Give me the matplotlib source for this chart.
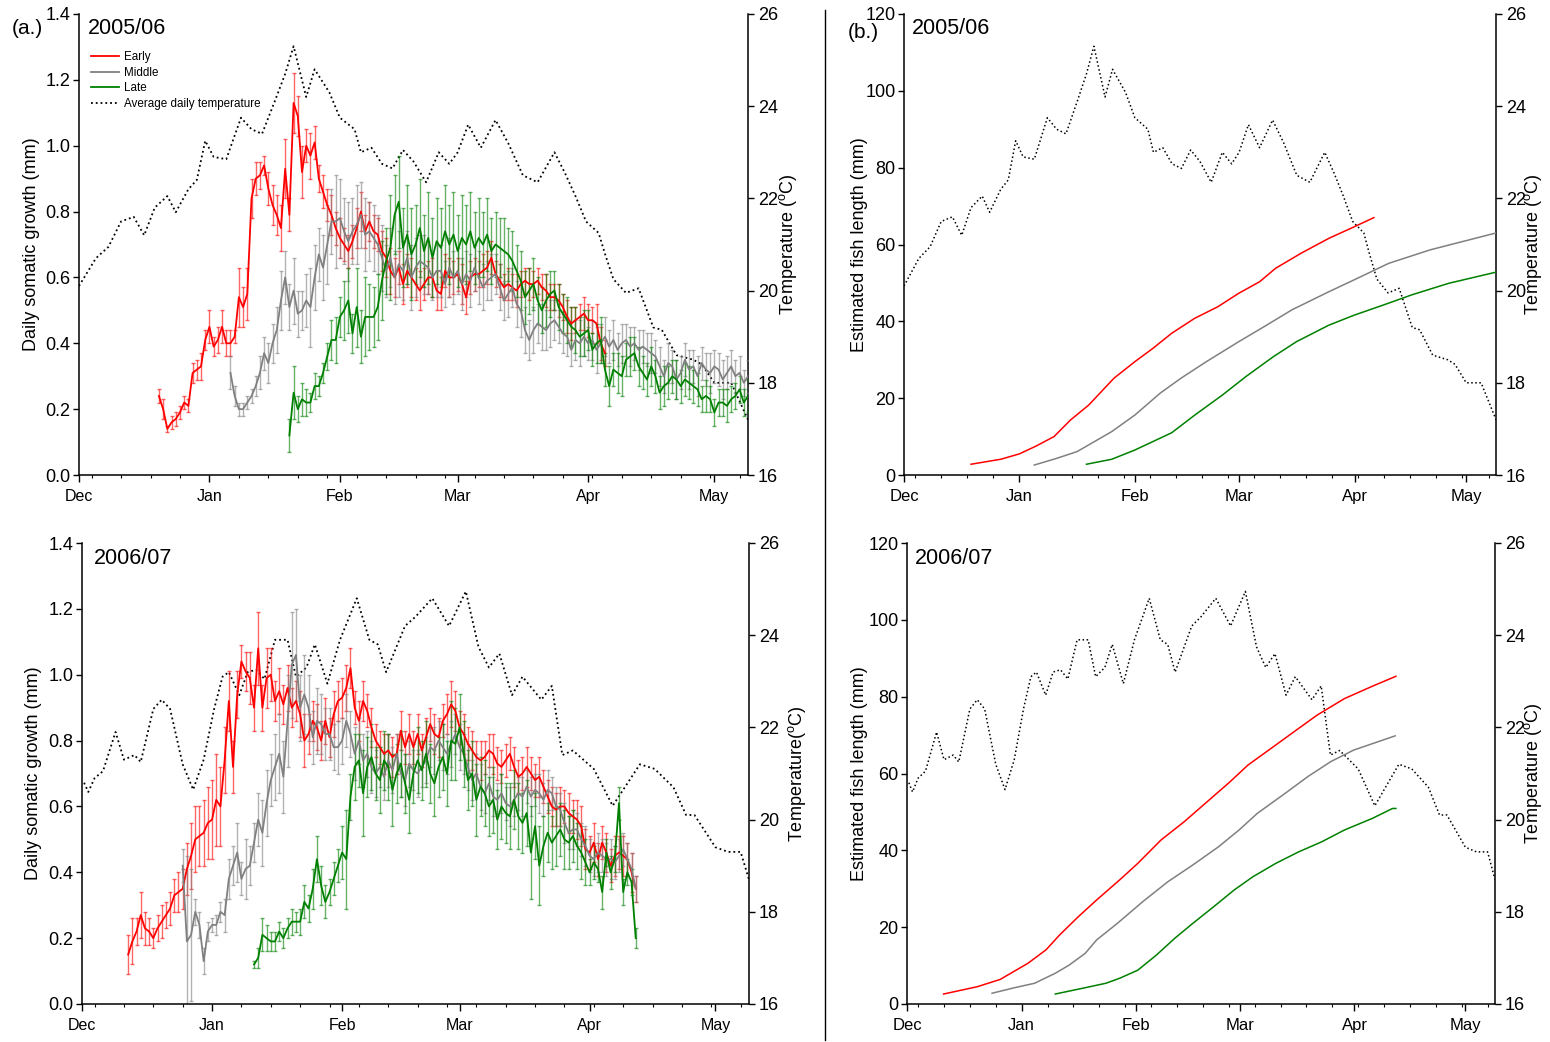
import numpy as np
import matplotlib.pyplot as plt
from matplotlib.lines import Line2D
from matplotlib.transforms import ScaledTranslation

plt.rcParams['font.family'] = ['Liberation Sans', 'DejaVu Sans']
plt.rcParams['mathtext.default'] = 'regular'

W, H = 1550, 1042

# x axis: days counted from 1 December
MONTH_DAYS = [0, 31, 62, 90, 121, 151]
MONTHS = ['Dec', 'Jan', 'Feb', 'Mar', 'Apr', 'May']
WEEK_DAYS = list(range(3, 159, 7))

RED, GREY, GREEN = '#ff0000', '#808080', '#008000'

# ---- average daily temperature (deg C) ----
temp05_day = [0, 4, 7, 10, 13, 15.5, 18, 21, 23, 26, 28, 30, 32, 35, 38.5, 41, 43.5, 46.5, 49, 51,
              54, 56, 59.5, 62, 65.5, 67, 69.5, 72, 74.5, 77, 79.5, 82.5, 85.5, 88, 90, 92.5, 95.5,
              99, 102, 105.5, 109, 113, 115.5, 118, 120.5, 123.5, 125, 127, 130, 133, 136.5, 138.5,
              142, 146, 148, 151, 155, 157, 159]
temp05 = [20.1, 20.7, 20.95, 21.5, 21.6, 21.2, 21.8, 22.05, 21.7, 22.2, 22.4, 23.25, 22.9, 22.85,
          23.75, 23.5, 23.4, 24.1, 24.7, 25.3, 24.2, 24.8, 24.3, 23.75, 23.5, 23.0, 23.1, 22.75,
          22.65, 23.05, 22.8, 22.35, 23.0, 22.75, 23.0, 23.6, 23.1, 23.7, 23.2, 22.5, 22.35, 23.0,
          22.55, 22.05, 21.5, 21.25, 20.8, 20.25, 19.95, 20.05, 19.2, 19.15, 18.6, 18.5, 18.4,
          18.0, 18.0, 17.6, 17.2]

temp06_day = [0.5, 1.5, 3, 5, 8, 10, 12.5, 14, 17, 19, 21, 24, 26.5, 29, 31.5, 33.5, 35, 37.5, 39.5,
              41.5, 43.5, 46, 49, 51, 53.5, 55.5, 58.5, 61.5, 65.5, 68.5, 70.5, 72.5, 77, 79.5, 83.5,
              87.5, 91.5, 94.5, 97, 99.5, 102.5, 105, 109.5, 112, 114.5, 117, 122, 126.5, 133,
              136.5, 141, 144, 146, 151, 154, 157, 159]
temp06 = [20.8, 20.6, 20.9, 21.05, 21.9, 21.3, 21.4, 21.25, 22.4, 22.6, 22.4, 21.2, 20.65, 21.3,
          22.4, 23.1, 23.2, 22.7, 23.2, 23.25, 23.05, 23.9, 23.9, 23.1, 23.3, 23.8, 22.95, 23.9,
          24.8, 23.9, 23.8, 23.2, 24.2, 24.4, 24.8, 24.2, 24.95, 23.75, 23.3, 23.6, 22.7, 23.1,
          22.6, 22.9, 21.4, 21.5, 21.1, 20.3, 21.2, 21.1, 20.7, 20.1, 20.1, 19.4, 19.3, 19.3, 18.7]

# ---- daily somatic growth (mm): one value per day from the first day ----
early05_start = 19
early05 = [0.24, 0.20, 0.14, 0.16, 0.17, 0.19, 0.22, 0.21, 0.31, 0.32,
           0.33, 0.41, 0.45, 0.39, 0.41, 0.45, 0.40, 0.40, 0.42, 0.54,
           0.51, 0.55, 0.84, 0.90, 0.91, 0.94, 0.87, 0.82, 0.79, 0.75,
           0.93, 0.79, 1.13, 1.09, 0.92, 1.00, 0.97, 1.01, 0.90, 0.86,
           0.82, 0.79, 0.75, 0.72, 0.70, 0.68, 0.71, 0.75, 0.80, 0.74,
           0.77, 0.74, 0.73, 0.68, 0.66, 0.62, 0.60, 0.63, 0.58, 0.62,
           0.60, 0.58, 0.56, 0.58, 0.60, 0.60, 0.56, 0.55, 0.62, 0.60,
           0.60, 0.61, 0.58, 0.54, 0.60, 0.61, 0.61, 0.62, 0.63, 0.66,
           0.61, 0.59, 0.57, 0.58, 0.57, 0.56, 0.58, 0.59, 0.58, 0.58,
           0.59, 0.57, 0.56, 0.54, 0.54, 0.53, 0.51, 0.48, 0.46, 0.47,
           0.48, 0.49, 0.47, 0.47, 0.46, 0.40, 0.37]
early05_err = [0.02, 0.03, 0.01, 0.02, 0.02, 0.02, 0.02, 0.02, 0.03, 0.03,
               0.04, 0.03, 0.05, 0.03, 0.04, 0.05, 0.04, 0.04, 0.02, 0.09,
               0.06, 0.08, 0.06, 0.05, 0.04, 0.03, 0.05, 0.06, 0.06, 0.07,
               0.09, 0.05, 0.09, 0.06, 0.08, 0.05, 0.07, 0.05, 0.04, 0.05,
               0.05, 0.06, 0.05, 0.06, 0.05, 0.05, 0.05, 0.06, 0.06, 0.05,
               0.06, 0.05, 0.05, 0.06, 0.06, 0.07, 0.06, 0.05, 0.06, 0.05,
               0.06, 0.05, 0.06, 0.05, 0.05, 0.06, 0.06, 0.05, 0.05, 0.06,
               0.05, 0.05, 0.06, 0.05, 0.05, 0.05, 0.04, 0.05, 0.05, 0.05,
               0.04, 0.05, 0.04, 0.05, 0.04, 0.05, 0.04, 0.04, 0.05, 0.04,
               0.04, 0.04, 0.05, 0.04, 0.04, 0.05, 0.04, 0.05, 0.05, 0.04,
               0.04, 0.05, 0.05, 0.04, 0.06, 0.05, 0.04]

middle05_start = 36
middle05 = [0.31, 0.24, 0.20, 0.20, 0.22, 0.24, 0.27, 0.31, 0.37, 0.34,
            0.40, 0.44, 0.53, 0.60, 0.51, 0.56, 0.49, 0.50, 0.53, 0.51,
            0.60, 0.67, 0.63, 0.70, 0.77, 0.77, 0.78, 0.74, 0.71, 0.74,
            0.76, 0.79, 0.73, 0.74, 0.72, 0.70, 0.66, 0.62, 0.66, 0.60,
            0.64, 0.62, 0.66, 0.60, 0.63, 0.65, 0.64, 0.63, 0.60, 0.62,
            0.62, 0.58, 0.63, 0.60, 0.62, 0.58, 0.61, 0.59, 0.63, 0.60,
            0.57, 0.59, 0.60, 0.61, 0.57, 0.53, 0.55, 0.57, 0.52, 0.50,
            0.44, 0.41, 0.44, 0.46, 0.45, 0.44, 0.46, 0.47, 0.45, 0.43,
            0.42, 0.38, 0.41, 0.40, 0.42, 0.40, 0.41, 0.38, 0.40, 0.42,
            0.39, 0.41, 0.38, 0.40, 0.41, 0.39, 0.40, 0.38, 0.39, 0.38,
            0.37, 0.36, 0.33, 0.30, 0.34, 0.33, 0.29, 0.31, 0.35, 0.32,
            0.33, 0.30, 0.34, 0.32, 0.31, 0.33, 0.32, 0.29, 0.31, 0.33,
            0.30, 0.31, 0.28, 0.30]
middle05_err = [0.05, 0.03, 0.02, 0.02, 0.02, 0.02, 0.03, 0.05, 0.05, 0.06,
                0.06, 0.07, 0.09, 0.08, 0.07, 0.10, 0.07, 0.06, 0.08, 0.12,
                0.10, 0.08, 0.10, 0.12, 0.10, 0.14, 0.12, 0.10, 0.12, 0.10,
                0.12, 0.10, 0.11, 0.09, 0.10, 0.09, 0.10, 0.08, 0.09, 0.08,
                0.10, 0.09, 0.08, 0.10, 0.09, 0.08, 0.09, 0.08, 0.07, 0.08,
                0.08, 0.07, 0.09, 0.08, 0.07, 0.08, 0.07, 0.08, 0.07, 0.08,
                0.07, 0.06, 0.07, 0.06, 0.07, 0.06, 0.07, 0.06, 0.07, 0.08,
                0.07, 0.06, 0.07, 0.06, 0.07, 0.06, 0.07, 0.06, 0.05, 0.06,
                0.06, 0.05, 0.06, 0.07, 0.06, 0.05, 0.06, 0.07, 0.06, 0.06,
                0.05, 0.06, 0.05, 0.06, 0.05, 0.06, 0.05, 0.06, 0.05, 0.05,
                0.06, 0.05, 0.06, 0.05, 0.06, 0.05, 0.06, 0.05, 0.05, 0.06,
                0.05, 0.06, 0.05, 0.05, 0.06, 0.05, 0.05, 0.06, 0.05, 0.05,
                0.05, 0.05, 0.04, 0.05]

late05_start = 50
late05 = [0.12, 0.25, 0.20, 0.23, 0.22, 0.22, 0.27, 0.27, 0.31, 0.36,
          0.41, 0.41, 0.48, 0.50, 0.53, 0.43, 0.51, 0.42, 0.48, 0.48,
          0.48, 0.51, 0.59, 0.65, 0.69, 0.79, 0.83, 0.69, 0.73, 0.67,
          0.70, 0.75, 0.68, 0.72, 0.66, 0.71, 0.69, 0.74, 0.70, 0.73,
          0.68, 0.72, 0.70, 0.74, 0.69, 0.72, 0.70, 0.73, 0.68, 0.70,
          0.69, 0.68, 0.67, 0.65, 0.62, 0.59, 0.54, 0.56, 0.58, 0.53,
          0.50, 0.53, 0.55, 0.56, 0.51, 0.49, 0.47, 0.45, 0.44, 0.42,
          0.43, 0.44, 0.38, 0.40, 0.41, 0.32, 0.27, 0.32, 0.31, 0.30,
          0.35, 0.36, 0.37, 0.33, 0.31, 0.29, 0.33, 0.30, 0.25, 0.27,
          0.28, 0.30, 0.29, 0.27, 0.29, 0.28, 0.27, 0.26, 0.23, 0.24,
          0.23, 0.19, 0.22, 0.22, 0.21, 0.23, 0.24, 0.26, 0.22, 0.24]
late05_err = [0.05, 0.08, 0.04, 0.05, 0.04, 0.03, 0.04, 0.03, 0.03, 0.04,
              0.06, 0.07, 0.06, 0.09, 0.10, 0.06, 0.12, 0.08, 0.12, 0.10,
              0.09, 0.10, 0.12, 0.10, 0.16, 0.12, 0.14, 0.12, 0.15, 0.14,
              0.12, 0.15, 0.11, 0.14, 0.12, 0.13, 0.12, 0.14, 0.12, 0.13,
              0.11, 0.13, 0.12, 0.12, 0.11, 0.12, 0.10, 0.11, 0.10, 0.10,
              0.09, 0.10, 0.08, 0.09, 0.08, 0.09, 0.08, 0.07, 0.08, 0.07,
              0.07, 0.08, 0.07, 0.06, 0.07, 0.06, 0.07, 0.06, 0.07, 0.06,
              0.07, 0.06, 0.05, 0.06, 0.07, 0.05, 0.06, 0.05, 0.06, 0.06,
              0.05, 0.06, 0.05, 0.06, 0.05, 0.05, 0.06, 0.05, 0.05, 0.06,
              0.05, 0.05, 0.06, 0.05, 0.05, 0.05, 0.05, 0.05, 0.04, 0.05,
              0.04, 0.04, 0.04, 0.04, 0.05, 0.04, 0.04, 0.04, 0.04, 0.05]

early06_start = 11
early06 = [0.15, 0.19, 0.22, 0.27, 0.23, 0.22, 0.20, 0.23, 0.25, 0.27,
           0.29, 0.33, 0.34, 0.35, 0.41, 0.45, 0.50, 0.51, 0.52, 0.55,
           0.56, 0.62, 0.60, 0.74, 0.92, 0.72, 0.94, 1.04, 1.01, 0.99,
           0.90, 1.08, 0.90, 0.99, 1.00, 0.92, 0.95, 0.91, 0.96, 0.90,
           0.92, 0.88, 0.80, 0.82, 0.86, 0.84, 0.80, 0.86, 0.81, 0.88,
           0.92, 0.93, 0.96, 1.02, 0.90, 0.86, 0.92, 0.89, 0.84, 0.80,
           0.78, 0.76, 0.77, 0.75, 0.76, 0.83, 0.78, 0.82, 0.78, 0.82,
           0.77, 0.81, 0.85, 0.82, 0.81, 0.86, 0.88, 0.91, 0.89, 0.84,
           0.82, 0.79, 0.77, 0.75, 0.74, 0.75, 0.77, 0.76, 0.73, 0.72,
           0.74, 0.76, 0.72, 0.69, 0.70, 0.72, 0.70, 0.68, 0.69, 0.66,
           0.63, 0.60, 0.59, 0.60, 0.60, 0.58, 0.57, 0.56, 0.54, 0.47,
           0.46, 0.49, 0.44, 0.49, 0.46, 0.42, 0.45, 0.46, 0.45, 0.44,
           0.40, 0.35]
early06_err = [0.06, 0.07, 0.04, 0.07, 0.05, 0.04, 0.03, 0.04, 0.05, 0.04,
               0.05, 0.05, 0.06, 0.06, 0.08, 0.10, 0.10, 0.09, 0.10, 0.11,
               0.12, 0.14, 0.12, 0.10, 0.09, 0.08, 0.07, 0.05, 0.06, 0.08,
               0.07, 0.11, 0.07, 0.09, 0.08, 0.06, 0.07, 0.06, 0.07, 0.06,
               0.06, 0.07, 0.08, 0.06, 0.06, 0.07, 0.06, 0.07, 0.06, 0.07,
               0.06, 0.06, 0.07, 0.06, 0.05, 0.06, 0.06, 0.05, 0.06, 0.05,
               0.05, 0.06, 0.05, 0.06, 0.06, 0.06, 0.05, 0.06, 0.05, 0.06,
               0.05, 0.06, 0.05, 0.06, 0.06, 0.05, 0.06, 0.07, 0.06, 0.05,
               0.06, 0.05, 0.06, 0.05, 0.06, 0.05, 0.05, 0.06, 0.05, 0.05,
               0.05, 0.05, 0.06, 0.05, 0.05, 0.06, 0.05, 0.05, 0.06, 0.05,
               0.05, 0.06, 0.05, 0.06, 0.05, 0.06, 0.05, 0.06, 0.06, 0.06,
               0.05, 0.06, 0.05, 0.05, 0.06, 0.05, 0.06, 0.05, 0.06, 0.05,
               0.06, 0.04]

middle06_start = 24
middle06 = [0.42, 0.19, 0.21, 0.28, 0.24, 0.13, 0.22, 0.24, 0.24, 0.28,
            0.27, 0.38, 0.42, 0.46, 0.38, 0.41, 0.42, 0.49, 0.56, 0.52,
            0.61, 0.68, 0.72, 0.76, 0.69, 0.86, 1.03, 1.06, 0.90, 0.94,
            0.90, 0.81, 0.86, 0.85, 0.82, 0.82, 0.78, 0.78, 0.80, 0.86,
            0.82, 0.76, 0.80, 0.74, 0.76, 0.72, 0.70, 0.72, 0.69, 0.74,
            0.71, 0.76, 0.70, 0.68, 0.73, 0.71, 0.70, 0.72, 0.74, 0.78,
            0.77, 0.80, 0.78, 0.76, 0.79, 0.82, 0.78, 0.76, 0.72, 0.68,
            0.70, 0.66, 0.64, 0.67, 0.63, 0.62, 0.64, 0.61, 0.60, 0.62,
            0.64, 0.63, 0.66, 0.63, 0.65, 0.64, 0.62, 0.65, 0.64, 0.60,
            0.59, 0.55, 0.52, 0.53, 0.53, 0.50, 0.48, 0.45, 0.44, 0.46,
            0.45, 0.44, 0.44, 0.43, 0.45, 0.47, 0.44, 0.41, 0.35]
middle06_err = [0.05, 0.26, 0.20, 0.04, 0.04, 0.04, 0.03, 0.02, 0.03, 0.03,
                0.05, 0.06, 0.06, 0.09, 0.05, 0.09, 0.06, 0.06, 0.08, 0.10,
                0.10, 0.08, 0.10, 0.12, 0.11, 0.14, 0.16, 0.14, 0.10, 0.12,
                0.10, 0.08, 0.10, 0.09, 0.08, 0.08, 0.07, 0.08, 0.07, 0.08,
                0.07, 0.08, 0.07, 0.08, 0.07, 0.08, 0.07, 0.06, 0.07, 0.08,
                0.07, 0.06, 0.07, 0.08, 0.07, 0.06, 0.07, 0.06, 0.07, 0.06,
                0.07, 0.06, 0.07, 0.06, 0.07, 0.06, 0.07, 0.06, 0.07, 0.06,
                0.06, 0.07, 0.06, 0.05, 0.06, 0.05, 0.06, 0.05, 0.06, 0.05,
                0.05, 0.06, 0.05, 0.06, 0.05, 0.06, 0.05, 0.06, 0.05, 0.06,
                0.05, 0.06, 0.05, 0.06, 0.05, 0.05, 0.06, 0.05, 0.05, 0.06,
                0.05, 0.05, 0.06, 0.05, 0.05, 0.05, 0.05, 0.05, 0.04]

late06_start = 41
late06 = [0.12, 0.14, 0.21, 0.20, 0.19, 0.19, 0.22, 0.20, 0.23, 0.25,
          0.25, 0.25, 0.31, 0.29, 0.35, 0.44, 0.36, 0.31, 0.34, 0.38,
          0.42, 0.46, 0.44, 0.63, 0.72, 0.74, 0.64, 0.72, 0.75, 0.70,
          0.68, 0.74, 0.72, 0.65, 0.70, 0.73, 0.67, 0.62, 0.70, 0.74,
          0.71, 0.76, 0.70, 0.67, 0.72, 0.75, 0.70, 0.80, 0.79, 0.84,
          0.76, 0.68, 0.70, 0.62, 0.66, 0.64, 0.60, 0.62, 0.56, 0.60,
          0.58, 0.57, 0.62, 0.57, 0.55, 0.58, 0.46, 0.54, 0.42, 0.48,
          0.52, 0.49, 0.51, 0.53, 0.50, 0.49, 0.51, 0.48, 0.46, 0.43,
          0.40, 0.43, 0.41, 0.34, 0.46, 0.40, 0.44, 0.61, 0.34, 0.40,
          0.37, 0.20]
late06_err = [0.01, 0.03, 0.05, 0.04, 0.03, 0.03, 0.03, 0.03, 0.03, 0.04,
              0.03, 0.04, 0.05, 0.04, 0.06, 0.07, 0.06, 0.05, 0.04, 0.05,
              0.05, 0.08, 0.15, 0.07, 0.10, 0.08, 0.13, 0.09, 0.10, 0.08,
              0.10, 0.09, 0.10, 0.11, 0.09, 0.10, 0.09, 0.10, 0.09, 0.10,
              0.09, 0.10, 0.09, 0.10, 0.09, 0.10, 0.10, 0.12, 0.11, 0.10,
              0.10, 0.09, 0.10, 0.11, 0.09, 0.10, 0.09, 0.10, 0.09, 0.10,
              0.09, 0.10, 0.09, 0.10, 0.09, 0.10, 0.14, 0.10, 0.12, 0.09,
              0.09, 0.08, 0.09, 0.08, 0.09, 0.08, 0.08, 0.07, 0.08, 0.07,
              0.04, 0.05, 0.04, 0.05, 0.04, 0.05, 0.04, 0.05, 0.04, 0.04,
              0.04, 0.03]

# ---- estimated fish length (mm) ----
len_early05_day = [18, 26, 31, 35.4, 40.3, 44.7, 49.6, 56.4, 62, 66.9, 71.9, 78.1, 84.3, 89.9,
                   95.5, 99.8, 106.6, 114.1, 120.9, 126.2]
len_early05 = [2.8, 4.1, 5.5, 7.5, 10.0, 14.3, 18.2, 25.2, 29.5, 33.0, 36.9, 40.8, 43.8, 47.3,
               50.3, 53.8, 57.7, 61.6, 64.6, 67.0]
len_middle05_day = [35, 40.9, 46.5, 55.8, 62, 68.8, 74.4, 81.2, 89.9, 96.7, 104.2, 114.1, 120.9,
                    130.2, 141.3, 159]
len_middle05 = [2.6, 4.3, 6.1, 11.3, 15.6, 21.3, 25.2, 29.5, 34.7, 38.6, 43.0, 47.7, 50.8, 55.1,
                58.6, 63.0]
len_late05_day = [49, 55.8, 62, 71.9, 78.1, 85.5, 91.8, 99.2, 105.4, 114.1, 120.9, 128.9, 136.4,
                  146.3, 159]
len_late05 = [2.8, 4.1, 6.5, 11.0, 15.6, 20.8, 25.6, 30.8, 34.7, 39.0, 41.6, 44.3, 46.9, 49.9, 52.8]

len_early06_day = [9.9, 19.0, 25.2, 32.7, 37.6, 41.3, 46.3, 51.3, 57.5, 62.4, 68.7, 74.9, 81.7,
                   87.3, 92.2, 98.4, 104.7, 110.9, 118.3, 125.8, 132.2]
len_early06 = [2.6, 4.5, 6.4, 10.6, 14.1, 18.0, 22.7, 27.1, 32.3, 36.6, 42.7, 47.4, 53.1, 57.8,
               62.2, 66.5, 70.9, 75.2, 79.5, 82.7, 85.3]
len_middle06_day = [23, 28.9, 34.5, 40.1, 43.8, 48.2, 51.3, 56.9, 63.7, 70.5, 77.3, 84.2, 89.8,
                    94.7, 102.2, 108.4, 114.6, 120.8, 132]
len_middle06 = [2.8, 4.2, 5.4, 8.0, 10.1, 13.2, 16.7, 21.0, 26.6, 31.8, 36.2, 40.9, 45.3, 49.6,
                54.8, 59.2, 63.1, 66.1, 69.8]
len_late06_day = [40.1, 47.5, 53.8, 57.5, 62.4, 67.4, 72.4, 77.3, 82.9, 88.5, 93.5, 99.7, 105.9,
                  112.1, 118.3, 125.8, 131.3, 132.2]
len_late06 = [2.6, 4.1, 5.4, 6.7, 8.8, 12.7, 17.1, 21.0, 25.3, 29.7, 33.1, 36.6, 39.6, 42.2,
              45.3, 48.3, 50.9, 50.9]


def px_axes(x0, x1, y0, y1):
    # axes rectangle from pixel edges
    return [x0 / W, 1 - y1 / H, (x1 - x0) / W, (y1 - y0) / H]


def style_axes(ax, tw, ylim, yticks, ylabel, ylab_x, tlabel, tlab_x, xfs):
    ax.set_xlim(0, 159)
    ax.set_ylim(*ylim)
    ax.set_yticks(yticks)
    ax.set_xticks(MONTH_DAYS)
    ax.set_xticklabels(MONTHS, fontsize=xfs)
    ax.set_xticks(WEEK_DAYS, minor=True)
    shift = ScaledTranslation(-5 / 100, 0, fig.dpi_scale_trans)
    for lab in ax.get_xticklabels():
        lab.set_transform(lab.get_transform() + shift)
    ax.tick_params(axis='x', which='major', length=5, width=1, pad=5)
    ax.tick_params(axis='x', which='minor', length=2.5, width=0.8)
    ax.tick_params(axis='y', length=4, width=1, labelsize=13, pad=2)
    ax.spines['top'].set_visible(False)
    ax.spines['right'].set_visible(False)
    for s in ('left', 'bottom'):
        ax.spines[s].set_linewidth(1.1)
    ax.set_ylabel(ylabel, fontsize=13)
    ax.yaxis.set_label_coords(ylab_x, 0.5)

    tw.set_ylim(16, 26)
    tw.set_yticks([16, 18, 20, 22, 24, 26])
    tw.tick_params(axis='y', length=4, width=1, labelsize=13, pad=3)
    tw.spines['top'].set_visible(False)
    tw.spines['left'].set_visible(False)
    tw.spines['bottom'].set_visible(False)
    tw.spines['right'].set_linewidth(1.1)
    tw.set_ylabel(tlabel, fontsize=13)
    tw.yaxis.set_label_coords(tlab_x, 0.5)
    ax.set_zorder(tw.get_zorder() + 1)
    ax.patch.set_visible(False)


def growth_panel(ax, series):
    for start, vals, errs, col in series:
        d = np.arange(start, start + len(vals))
        ax.errorbar(d, vals, yerr=errs, fmt='none', ecolor=col, elinewidth=1.0,
                    capsize=1.6, capthick=1.0, alpha=0.6, zorder=2)
        ax.plot(d, vals, color=col, lw=1.3, zorder=3)


def length_panel(ax, series):
    for d, vals, col in series:
        ax.plot(d, vals, color=col, lw=1.1)


fig = plt.figure(figsize=(W / 100, H / 100), dpi=100)

# (a.) daily somatic growth
ax1 = fig.add_axes(px_axes(79, 748, 14, 475))
tw1 = ax1.twinx()
tw1.plot(temp05_day, temp05, color='black', lw=1.3, ls=':')
growth_panel(ax1, [(early05_start, early05, early05_err, RED),
                   (middle05_start, middle05, middle05_err, GREY),
                   (late05_start, late05, late05_err, GREEN)])
style_axes(ax1, tw1, (0, 1.4), np.arange(0, 1.41, 0.2), 'Daily somatic growth (mm)', -0.058,
           'Temperature ($^{o}$C)', 1.044, 11.5)

handles = [Line2D([], [], color=RED, lw=1.3), Line2D([], [], color=GREY, lw=1.3),
           Line2D([], [], color=GREEN, lw=1.3), Line2D([], [], color='black', lw=1.3, ls=':')]
ax1.legend(handles, ['Early', 'Middle', 'Late', 'Average daily temperature'],
           loc='upper left', bbox_to_anchor=(0.018, 0.92), frameon=False, fontsize=8.4,
           handlelength=2.4, handletextpad=0.45, labelspacing=0.32, borderpad=0,
           borderaxespad=0)

ax2 = fig.add_axes(px_axes(82, 749, 543, 1004))
tw2 = ax2.twinx()
tw2.plot(temp06_day, temp06, color='black', lw=1.3, ls=':')
growth_panel(ax2, [(early06_start, early06, early06_err, RED),
                   (middle06_start, middle06, middle06_err, GREY),
                   (late06_start, late06, late06_err, GREEN)])
style_axes(ax2, tw2, (0, 1.4), np.arange(0, 1.41, 0.2), 'Daily somatic growth (mm)', -0.06,
           'Temperature($^{o}$C)', 1.055, 11.5)

# (b.) estimated fish length
ax3 = fig.add_axes(px_axes(904, 1496, 14, 475))
tw3 = ax3.twinx()
tw3.plot(temp05_day, temp05, color='black', lw=1.1, ls=':')
length_panel(ax3, [(len_early05_day, len_early05, RED),
                   (len_middle05_day, len_middle05, GREY),
                   (len_late05_day, len_late05, GREEN)])
style_axes(ax3, tw3, (0, 120), range(0, 121, 20), 'Estimated fish length (mm)', -0.061,
           'Temperature ($^{o}$C)', 1.044, 12)

ax4 = fig.add_axes(px_axes(907, 1495, 543, 1004))
tw4 = ax4.twinx()
tw4.plot(temp06_day, temp06, color='black', lw=1.1, ls=':')
length_panel(ax4, [(len_early06_day, len_early06, RED),
                   (len_middle06_day, len_middle06, GREY),
                   (len_late06_day, len_late06, GREEN)])
style_axes(ax4, tw4, (0, 120), range(0, 121, 20), 'Estimated fish length (mm)', -0.066,
           'Temperature ($^{o}$C)', 1.046, 12)

# panel letters and season labels
fig.text(12 / W, 1 - 28 / H, '(a.)', fontsize=15, va='center', ha='left')
fig.text(848 / W, 1 - 33 / H, '(b.)', fontsize=15, va='center', ha='left')
fig.text(88 / W, 1 - 28 / H, '2005/06', fontsize=15.5, va='center', ha='left')
fig.text(94 / W, 1 - 558 / H, '2006/07', fontsize=15.5, va='center', ha='left')
fig.text(912 / W, 1 - 28 / H, '2005/06', fontsize=15.5, va='center', ha='left')
fig.text(915 / W, 1 - 558 / H, '2006/07', fontsize=15.5, va='center', ha='left')

# divider between the two columns
fig.add_artist(Line2D([825 / W, 825 / W], [1 - 10 / H, 1 - 1040 / H],
                      transform=fig.transFigure, color='black', lw=1))

fig.savefig('out.png', dpi=100)
